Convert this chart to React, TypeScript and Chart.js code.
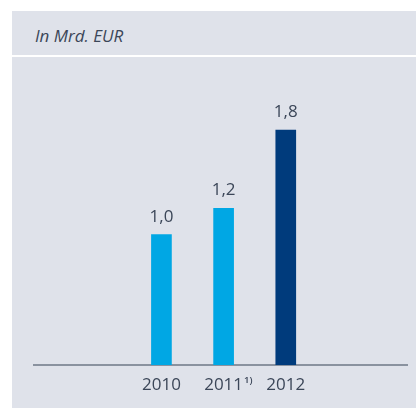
import React, { useEffect, useRef } from "react";
import { Chart, registerables } from "chart.js";

Chart.register(...registerables);

const categories = ["2010", "2011", "2012"];
const footnotes = ["", "1)", ""];
const values = [1.0, 1.2, 1.8];
const barColors = ["#00a7e4", "#00a7e4", "#003b7c"];
const unitLabel = "In Mrd. EUR";

const TEXT = "#3b4658";
const BG = "#dfe2ea";
const FONT = "'Open Sans', 'DejaVu Sans', sans-serif";

const valueLabelPlugin = {
  id: "valueLabels",
  afterDatasetsDraw(chart: any) {
    const ctx = chart.ctx;
    const meta = chart.getDatasetMeta(0);
    ctx.save();
    ctx.font = `17px ${FONT}`;
    ctx.fillStyle = TEXT;
    ctx.textAlign = "center";
    ctx.textBaseline = "alphabetic";
    meta.data.forEach((bar: any, i: number) => {
      const txt = values[i].toFixed(1).replace(".", ",");
      ctx.fillText(txt, bar.x, bar.y - 13);
    });
    ctx.restore();
  },
  afterDraw(chart: any) {
    const ctx = chart.ctx;
    const xs = chart.scales.x;
    ctx.save();
    ctx.font = `17px ${FONT}`;
    ctx.textBaseline = "alphabetic";
    footnotes.forEach((fn, i) => {
      if (!fn) return;
      const w = ctx.measureText(categories[i]).width;
      const cx = xs.getPixelForValue(i);
      ctx.font = `600 9.5px ${FONT}`;
      ctx.fillStyle = TEXT;
      ctx.textAlign = "left";
      ctx.fillText(fn, cx + w / 2 + 1, xs.top + 17.5);
      ctx.font = `17px ${FONT}`;
    });
    ctx.restore();
  },
};

function BarChart() {
  const ref = useRef<HTMLCanvasElement>(null);
  useEffect(() => {
    if (!ref.current) return;
    const chart = new Chart(ref.current, {
      type: "bar",
      data: {
        datasets: [
          {
            data: values.map((v, i) => ({ x: i, y: v })),
            backgroundColor: barColors,
            barThickness: 20,
            borderWidth: 0,
          },
        ],
      },
      options: {
        animation: false,
        responsive: false,
        maintainAspectRatio: false,
        layout: { padding: { left: 34, right: 9, top: 21, bottom: 0 } },
        plugins: { legend: { display: false }, tooltip: { enabled: false } },
        scales: {
          x: {
            type: "linear",
            min: -2.05,
            max: 3.95,
            offset: false,
            afterBuildTicks: (scale: any) => {
              scale.ticks = categories.map((_, i) => ({ value: i }));
            },
            afterFit: (scale: any) => {
              scale.height = 43;
            },
            grid: { display: false, drawTicks: false, offset: false },
            border: { display: true, color: "#8a929f", width: 2 },
            ticks: {
              padding: 10,
              color: TEXT,
              font: { size: 17, family: FONT },
              maxRotation: 0,
              autoSkip: false,
              callback: (v: any) => categories[Math.round(v)] ?? "",
            },
          },
          y: { display: false, min: 0, max: 2.2 },
        },
      },
      plugins: [valueLabelPlugin],
    } as any);
    return () => chart.destroy();
  }, []);
  return <canvas ref={ref} width={416} height={351} style={{ position: "absolute", left: 0, top: 57, width: 416, height: 351 }} />;
}

export default function App() {
  useEffect(() => {
    document.body.style.margin = "0";
  }, []);
  return (
    <div style={{ position: "absolute", left: 0, top: 0, width: 416, height: 408, background: "#ffffff", overflow: "hidden" }}>
      <div style={{ position: "absolute", left: 12, top: 11, width: 404, height: 44, background: BG }} />
      <div style={{ position: "absolute", left: 12, top: 57, width: 404, height: 351, background: BG }} />
      <div
        style={{
          position: "absolute",
          left: 35,
          top: 24,
          fontFamily: FONT,
          fontStyle: "italic",
          fontSize: 17,
          lineHeight: "normal",
          color: TEXT,
          whiteSpace: "nowrap",
        }}
      >
        {unitLabel}
      </div>
      <BarChart />
    </div>
  );
}
